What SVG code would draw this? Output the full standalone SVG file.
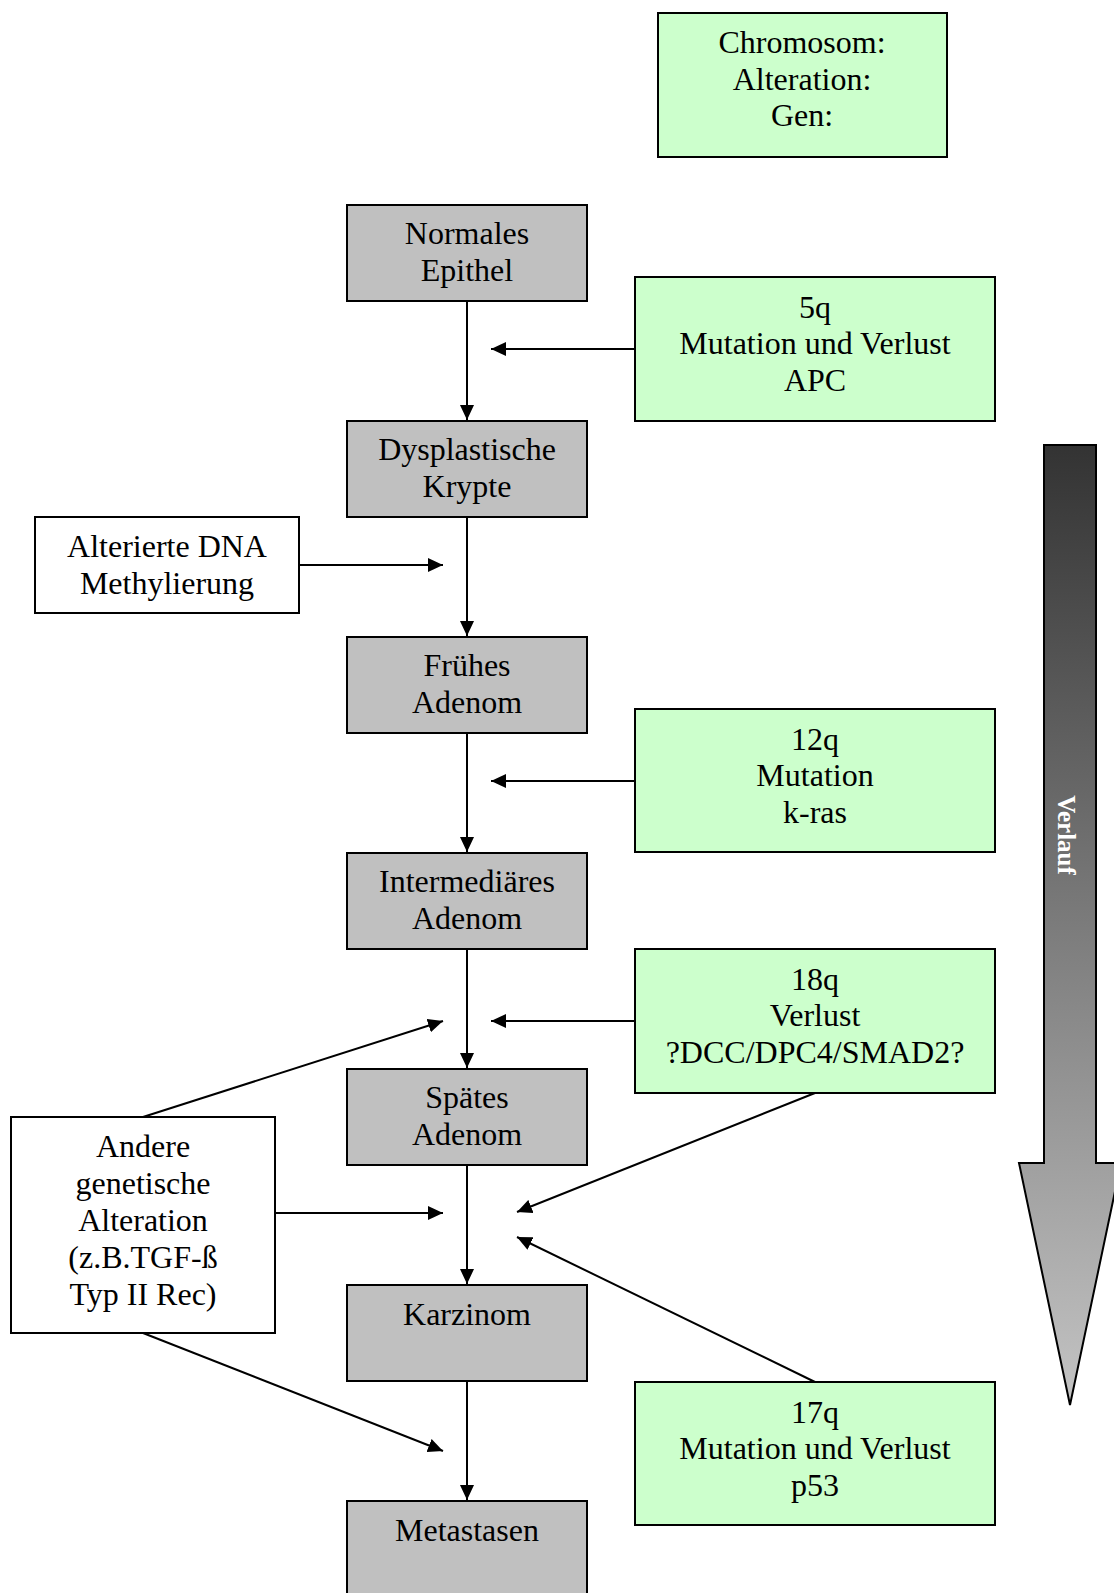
<svg xmlns="http://www.w3.org/2000/svg" width="1114" height="1593" viewBox="0 0 1114 1593">
<style>
.t{font-family:"Liberation Serif","Times New Roman",serif;font-size:32px;fill:#000;text-anchor:middle}
.g{fill:#c0c0c0;stroke:#000;stroke-width:2}
.gr{fill:#ccffcc;stroke:#000;stroke-width:2}
.w{fill:#fff;stroke:#000;stroke-width:2}
.c{stroke:#000;stroke-width:2;fill:none;marker-end:url(#ah)}
</style>
<defs>
<marker id="ah" viewBox="0 0 15 14" refX="15" refY="7" markerWidth="15" markerHeight="14" markerUnits="userSpaceOnUse" orient="auto">
<path d="M0,0 L15,7 L0,14 z" fill="#000"/>
</marker>
<linearGradient id="vg" gradientUnits="userSpaceOnUse" x1="0" y1="445" x2="0" y2="1405">
<stop offset="0" stop-color="#333333"/>
<stop offset="1" stop-color="#c4c4c4"/>
</linearGradient>
</defs>
<rect width="1114" height="1593" fill="#fff"/>

<g id="legend">
<rect class="gr" x="658" y="13" width="289" height="144"/>
<text class="t" x="802" y="53">Chromosom:</text>
<text class="t" x="802" y="90">Alteration:</text>
<text class="t" x="802" y="126">Gen:</text>
</g>

<g id="verlauf">
<path d="M1044,445 L1096,445 L1096,1163 L1121,1163 L1070,1405 L1019,1163 L1044,1163 Z" fill="url(#vg)" stroke="#000" stroke-width="2"/>
<text x="0" y="0" transform="translate(1058,835) rotate(90)" font-family="Liberation Serif, serif" font-size="25" font-weight="bold" fill="#fff" text-anchor="middle">Verlauf</text>
</g>

<g id="n-normal">
<rect class="g" x="347" y="205" width="240" height="96"/>
<text class="t" x="467" y="244">Normales</text>
<text class="t" x="467" y="281">Epithel</text>
</g>
<g id="n-dysplastisch">
<rect class="g" x="347" y="421" width="240" height="96"/>
<text class="t" x="467" y="460">Dysplastische</text>
<text class="t" x="467" y="497">Krypte</text>
</g>
<g id="n-frueh">
<rect class="g" x="347" y="637" width="240" height="96"/>
<text class="t" x="467" y="676">Frühes</text>
<text class="t" x="467" y="713">Adenom</text>
</g>
<g id="n-intermediaer">
<rect class="g" x="347" y="853" width="240" height="96"/>
<text class="t" x="467" y="892">Intermediäres</text>
<text class="t" x="467" y="929">Adenom</text>
</g>
<g id="n-spaet">
<rect class="g" x="347" y="1069" width="240" height="96"/>
<text class="t" x="467" y="1108">Spätes</text>
<text class="t" x="467" y="1145">Adenom</text>
</g>
<g id="n-karzinom">
<rect class="g" x="347" y="1285" width="240" height="96"/>
<text class="t" x="467" y="1325">Karzinom</text>
</g>
<g id="n-metastasen">
<rect class="g" x="347" y="1501" width="240" height="100"/>
<text class="t" x="467" y="1541">Metastasen</text>
</g>

<g id="n-5q">
<rect class="gr" x="635" y="277" width="360" height="144"/>
<text class="t" x="815" y="318">5q</text>
<text class="t" x="815" y="354">Mutation und Verlust</text>
<text class="t" x="815" y="391">APC</text>
</g>
<g id="n-12q">
<rect class="gr" x="635" y="709" width="360" height="143"/>
<text class="t" x="815" y="750">12q</text>
<text class="t" x="815" y="786">Mutation</text>
<text class="t" x="815" y="823">k-ras</text>
</g>
<g id="n-18q">
<rect class="gr" x="635" y="949" width="360" height="144"/>
<text class="t" x="815" y="990">18q</text>
<text class="t" x="815" y="1026">Verlust</text>
<text class="t" x="815" y="1063">?DCC/DPC4/SMAD2?</text>
</g>
<g id="n-17q">
<rect class="gr" x="635" y="1382" width="360" height="143"/>
<text class="t" x="815" y="1423">17q</text>
<text class="t" x="815" y="1459">Mutation und Verlust</text>
<text class="t" x="815" y="1496">p53</text>
</g>

<g id="n-methyl">
<rect class="w" x="35" y="517" width="264" height="96"/>
<text class="t" x="167" y="557">Alterierte DNA</text>
<text class="t" x="167" y="594">Methylierung</text>
</g>
<g id="n-andere">
<rect class="w" x="11" y="1117" width="264" height="216"/>
<text class="t" x="143" y="1157">Andere</text>
<text class="t" x="143" y="1194">genetische</text>
<text class="t" x="143" y="1231">Alteration</text>
<text class="t" x="143" y="1268">(z.B.TGF-ß</text>
<text class="t" x="143" y="1305">Typ II Rec)</text>
</g>

<g id="connectors">
<line class="c" x1="467" y1="302" x2="467" y2="420"/>
<line class="c" x1="467" y1="518" x2="467" y2="636"/>
<line class="c" x1="467" y1="734" x2="467" y2="852"/>
<line class="c" x1="467" y1="950" x2="467" y2="1068"/>
<line class="c" x1="467" y1="1166" x2="467" y2="1284"/>
<line class="c" x1="467" y1="1382" x2="467" y2="1500"/>
<line class="c" x1="635" y1="349" x2="491" y2="349"/>
<line class="c" x1="635" y1="781" x2="491" y2="781"/>
<line class="c" x1="635" y1="1021" x2="491" y2="1021"/>
<line class="c" x1="299" y1="565" x2="443" y2="565"/>
<line class="c" x1="143" y1="1117" x2="443" y2="1021"/>
<line class="c" x1="275" y1="1213" x2="443" y2="1213"/>
<line class="c" x1="143" y1="1333" x2="443" y2="1451"/>
<line class="c" x1="815" y1="1093" x2="517" y2="1212"/>
<line class="c" x1="815" y1="1382" x2="517" y2="1237"/>
</g>
</svg>
